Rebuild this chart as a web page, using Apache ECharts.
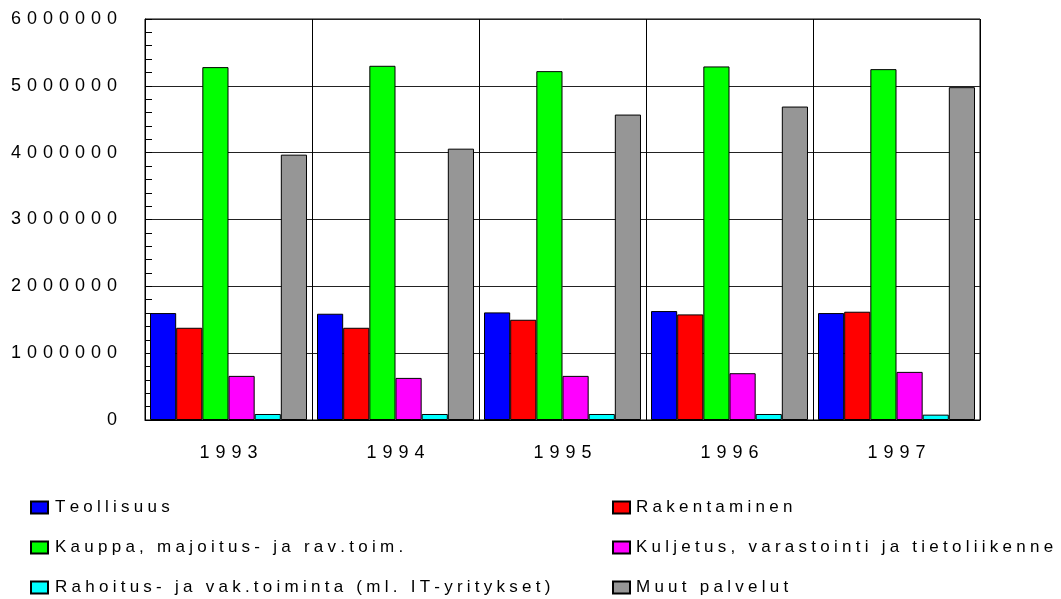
<!DOCTYPE html>
<html>
<head>
<meta charset="utf-8">
<script src="https://cdn.jsdelivr.net/npm/echarts@6/dist/echarts.min.js"></script>
<style>
  html, body { margin: 0; padding: 0; background: #fff; }
  #chart { width: 1061px; height: 599px; }
</style>
</head>
<body>
<div id="chart"></div>
<script>
// vuodet
const years = ['1993', '1994', '1995', '1996', '1997']

const teollisuus = [1600000, 1590000, 1610000, 1630000, 1600000]
const rakentaminen = [1380000, 1380000, 1500000, 1580000, 1620000]
const kauppa = [5280000, 5300000, 5220000, 5290000, 5250000]
const kuljetus = [660000, 630000, 660000, 700000, 720000]
const rahoitus = [90000, 90000, 90000, 90000, 80000]
const muut = [3970000, 4060000, 4570000, 4690000, 4980000]

const names = [
    'Teollisuus',
    'Rakentaminen',
    'Kauppa, majoitus- ja rav.toim.',
    'Kuljetus, varastointi ja tietoliikenne',
    'Rahoitus- ja vak.toiminta (ml. IT-yritykset)',
    'Muut palvelut',
]
const colors = ['#0000ff', '#ff0000', '#00ff00', '#ff00ff', '#00ffff', '#969696']
const values = [teollisuus, rakentaminen, kauppa, kuljetus, rahoitus, muut]

// harvennettu teksti kuten alkuperäisessä
const wide = (s) => String(s).split('').join('\u2004')
const spaced = (s) => String(s).split('').join('\u2005')

const font = 'Liberation Sans, Arial, sans-serif'

let series = []
for (let i = 0; i < names.length; i++) {
    series.push({
        name: names[i],
        type: 'bar',
        barGap: '0%',
        barCategoryGap: '6%',
        itemStyle: {
            color: colors[i],
            borderColor: '#000',
            borderWidth: 1,
        },
        data: values[i],
    })
}

const legendBase = {
    orient: 'vertical',
    top: 499,
    height: 100,
    padding: 0,
    itemWidth: 17,
    itemHeight: 12,
    itemGap: 23,
    icon: 'rect',
    textStyle: { fontSize: 17, color: '#000', fontFamily: font, padding: [0, 0, 0, 2] },
    formatter: spaced,
}

let chart = echarts.init(document.getElementById('chart'))
let option = {
    animation: false,
    backgroundColor: '#fff',
    grid: {
        left: 145,
        right: 81,
        top: 19,
        bottom: 179,
        show: true,
        borderColor: '#000',
        borderWidth: 1,
    },
    legend: [
        Object.assign({}, legendBase, { left: 30, data: [names[0], names[2], names[4]] }),
        Object.assign({}, legendBase, {
            left: 612,
            textStyle: { fontSize: 17, color: '#000', fontFamily: font, padding: [0, 0, 0, 1] },
            data: [names[1], names[3], names[5]],
        }),
    ],
    xAxis: {
        type: 'category',
        data: years,
        axisLine: { lineStyle: { color: '#000', width: 1 } },
        axisTick: { show: false },
        splitLine: { show: true, lineStyle: { color: '#000', width: 1 } },
        axisLabel: {
            margin: 24,
            fontSize: 18,
            color: '#000',
            fontFamily: font,
            formatter: wide,
        },
    },
    yAxis: {
        type: 'value',
        min: 0,
        max: 6000000,
        interval: 1000000,
        axisLine: { show: true, lineStyle: { color: '#000', width: 1 } },
        axisTick: { show: true, inside: true, length: 7, lineStyle: { color: '#000' } },
        minorTick: { show: true, splitNumber: 5, length: 7, lineStyle: { color: '#000' } },
        splitLine: { show: true, lineStyle: { color: '#222', width: 1 } },
        axisLabel: {
            margin: 28,
            fontSize: 18,
            color: '#000',
            fontFamily: font,
            formatter: wide,
        },
    },
    series: series,
}
chart.setOption(option)
</script>
</body>
</html>
